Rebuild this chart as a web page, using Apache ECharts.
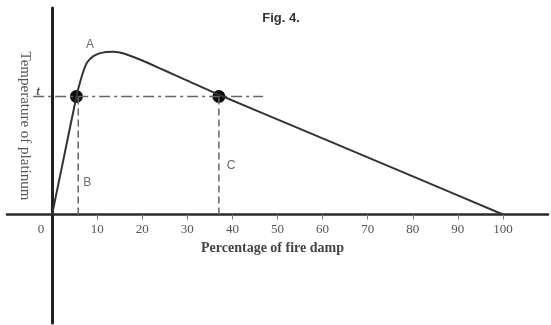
<!DOCTYPE html>
<html>
<head>
<meta charset="utf-8">
<script src="https://cdn.jsdelivr.net/npm/echarts@6/dist/echarts.min.js"></script>
<style>html,body{margin:0;padding:0;background:#fff}#c{width:551px;height:325px}</style>
</head>
<body>
<div id="c"></div>
<script>
// Data (x: percentage of fire damp, y: temperature of platinum, relative units, t = 100)
var curveX = [0, 2.7, 5.4, 6.2, 7.0, 7.8, 9.1, 10.5, 12, 13.5, 15, 17, 20, 25, 30, 37, 55, 81.6, 100];
var curveY = [0, 50, 100, 112, 122, 129, 134, 136.5, 137.8, 138, 137.3, 135, 130.5, 122, 113.5, 101.5, 72.5, 29.8, 0];
var dotX = [5.4, 37];
var dotY = [100, 100];
var tLineX = [-4.2, 46.8];
var tLineY = [100, 100];
var bLineX = [5.8, 5.8];
var bLineY = [0, 100];
var cLineX = [37, 37];
var cLineY = [0, 100];
var tickLabels = [0, 10, 20, 30, 40, 50, 60, 70, 80, 90, 100];
var tickMarks = [10, 20, 30, 40, 50, 60, 70, 80, 90, 100];
var annotText = ['A', 't', 'B', 'C'];
var annotX = [8.4, -3.1, 7.8, 39.7];
var annotY = [144, 104, 27, 41.5];

function zip(a, b) { return a.map(function (v, i) { return [v, b[i]]; }); }

var chart = echarts.init(document.getElementById('c'), null, { renderer: 'canvas' });
var option = {
  animation: false,
  backgroundColor: '#ffffff',
  title: {
    text: 'Fig. 4.',
    left: 276, top: 7, textAlign: 'center',
    textStyle: { fontFamily: 'Liberation Sans', fontSize: 13, fontWeight: 'bold', color: '#333' }
  },
  grid: { left: 7, right: 3, top: 8, bottom: 2, containLabel: false, outerBoundsMode: 'none' },
  xAxis: {
    type: 'value', min: -10, max: 110, interval: 10,
    offset: -108.5,
    name: 'Percentage of fire damp',
    nameLocation: 'middle', nameGap: 24,
    nameTextStyle: { fontFamily: 'Liberation Serif', fontSize: 14, fontWeight: 'bold', color: '#444', padding: [0, 10, 0, 0] },
    axisLine: { onZero: false, lineStyle: { color: '#2a2a2a', width: 2.5 } },
    axisTick: { show: true, customValues: tickMarks, length: 5, lineStyle: { color: '#777', width: 1 } },
    axisLabel: {
      customValues: tickLabels, margin: 9,
      fontFamily: 'Liberation Serif', fontSize: 13, color: '#555',
      formatter: function (v) { return v === 0 ? '{z|0}' : String(v); },
      rich: { z: { fontFamily: 'Liberation Serif', fontSize: 13, color: '#555', padding: [0, 22, 0, 0] } }
    },
    splitLine: { show: false }
  },
  yAxis: {
    type: 'value', min: -92, max: 175,
    axisLine: { show: true, onZero: true, lineStyle: { color: '#222', width: 3 } },
    axisTick: { show: false }, axisLabel: { show: false }, splitLine: { show: false }
  },
  graphic: [{
    type: 'text', x: 25, y: 126, rotation: -Math.PI / 2,
    style: { text: 'Temperature of platinum', fontFamily: 'Liberation Serif', fontSize: 15, fill: '#555', align: 'center', verticalAlign: 'middle' }
  }],
  series: [
    { type: 'line', data: zip(tLineX, tLineY), symbol: 'none', silent: true,
      lineStyle: { color: '#666', width: 1.5, type: [11, 4, 3, 4] } },
    { type: 'line', data: zip(bLineX, bLineY), symbol: 'none', silent: true,
      lineStyle: { color: '#666', width: 1.5, type: [7, 4] } },
    { type: 'line', data: zip(cLineX, cLineY), symbol: 'none', silent: true,
      lineStyle: { color: '#666', width: 1.5, type: [7, 4] } },
    { type: 'line', data: zip(curveX, curveY), symbol: 'none', smooth: 0.2,
      lineStyle: { color: '#333', width: 2 } },
    { type: 'scatter', data: zip(dotX, dotY), symbolSize: 13, itemStyle: { color: '#0a0a0a', opacity: 1 } },
    { type: 'scatter', symbolSize: 0,
      data: annotText.map(function (s, i) { return { value: [annotX[i], annotY[i]], name: s }; }),
      label: { show: true, position: 'inside', formatter: function (p) { return p.name; },
        fontFamily: 'Liberation Sans', fontSize: 12, color: '#444' } }
  ]
};
// italic serif for the 't' annotation
option.series[5].data[1].label = { fontFamily: 'Liberation Serif', fontStyle: 'italic', fontSize: 13, fontWeight: 'bold', color: '#333' };
chart.setOption(option);
</script>
</body>
</html>
